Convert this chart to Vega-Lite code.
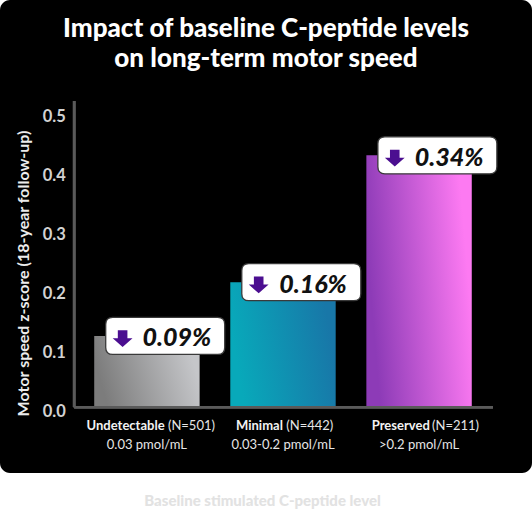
{
  "$schema": "https://vega.github.io/schema/vega-lite/v6.json",
  "width": 532,
  "height": 473,
  "autosize": {"type": "none"},
  "padding": {"left": 0, "top": 0, "right": 0, "bottom": 37},
  "background": "white",
  "config": {
    "view": {"fill": "black", "stroke": null, "cornerRadius": 10},
    "font": "Lato"
  },
  "title": {
    "text": ["Impact of baseline C-peptide levels", "on long-term motor speed"],
    "font": "Lato",
    "fontSize": 26,
    "fontWeight": 900,
    "color": "white",
    "lineHeight": 30,
    "anchor": "middle",
    "frame": "group",
    "offset": -72
  },
  "data": {
    "values": [
      {"group": "Undetectable", "n": "(N=501)", "range": "0.03 pmol/mL", "score": 0.121, "decline": "0.09%"},
      {"group": "Minimal", "n": "(N=442)", "range": "0.03-0.2 pmol/mL", "score": 0.212, "decline": "0.16%"},
      {"group": "Preserved", "n": "(N=211)", "range": ">0.2 pmol/mL", "score": 0.427, "decline": "0.34%"}
    ]
  },
  "encoding": {
    "x": {
      "field": "group",
      "type": "nominal",
      "sort": null,
      "scale": {"paddingInner": 0.2254, "paddingOuter": 0.5675, "align": 0.61},
      "axis": {
        "orient": "bottom",
        "offset": -66,
        "domain": false,
        "ticks": false,
        "labels": false,
        "title": "Baseline stimulated C-peptide level",
        "titleFont": "Lato",
        "titleFontSize": 15,
        "titleFontWeight": 900,
        "titleColor": "#e2e2e2",
        "titleX": 262,
        "titleY": 93,
        "titleBaseline": "middle"
      }
    },
    "y": {
      "field": "score",
      "type": "quantitative",
      "scale": {"domain": [-0.1114, 0.6903], "nice": false, "zero": false},
      "axis": {
        "orient": "left",
        "offset": -74.3,
        "values": [0, 0.1, 0.2, 0.3, 0.4, 0.5],
        "format": ".1f",
        "domain": false,
        "ticks": false,
        "grid": false,
        "labelPadding": 9,
        "labelOffset": 4.5,
        "labelFont": "Lato",
        "labelFontSize": 16.5,
        "labelFontWeight": 700,
        "labelColor": "#d2d2d2",
        "title": "Motor speed z-score (18-year follow-up)",
        "titleFont": "Lato",
        "titleFontSize": 16,
        "titleFontWeight": "bold",
        "titleColor": "#ececec",
        "titleX": -51,
        "titleY": 273,
        "titleBaseline": "middle",
        "titleAlign": "center",
        "titleAngle": -90
      }
    }
  },
  "layer": [
    {
      "mark": {"type": "bar"},
      "encoding": {
        "fill": {
          "condition": [
            {
              "test": "datum.group === 'Undetectable'",
              "value": {"gradient": "linear", "x1": 0, "y1": 0.6, "x2": 1, "y2": 0.4,
                "stops": [{"offset": 0.05, "color": "#7c7c7c"}, {"offset": 0.95, "color": "#c5c6c9"}]}
            },
            {
              "test": "datum.group === 'Minimal'",
              "value": {"gradient": "linear", "x1": 0, "y1": 0.6, "x2": 1, "y2": 0.4,
                "stops": [{"offset": 0.05, "color": "#08a9ba"}, {"offset": 0.95, "color": "#1877a8"}]}
            }
          ],
          "value": {"gradient": "linear", "x1": 0, "y1": 0.6, "x2": 1, "y2": 0.4,
            "stops": [{"offset": 0.05, "color": "#8d3bb7"}, {"offset": 0.95, "color": "#fd7af2"}]}
        }
      }
    },
    {
      "mark": {"type": "rule", "color": "#5a5a5a", "strokeWidth": 2.6},
      "encoding": {
        "x": {"datum": "Undetectable", "bandPosition": -0.19},
        "y": {"datum": 0},
        "y2": {"datum": 0.519}
      }
    },
    {
      "mark": {"type": "rule", "color": "#5a5a5a", "strokeWidth": 2.6},
      "encoding": {
        "x": {"datum": "Undetectable", "bandPosition": -0.19},
        "x2": {"datum": "Preserved", "bandPosition": 1.201},
        "y": {"datum": 0}
      }
    },
    {
      "mark": {
        "type": "point",
        "shape": "M-0.57,-0.3083 L1.18,-0.3083 Q1.2967,-0.3083 1.2967,-0.1917 L1.2967,0.1917 Q1.2967,0.3083 1.18,0.3083 L-0.57,0.3083 Q-0.6867,0.3083 -0.6867,0.1917 L-0.6867,-0.1917 Q-0.6867,-0.3083 -0.57,-0.3083 Z",
        "size": 14400,
        "filled": true,
        "fill": "white",
        "stroke": "#3a3a3a",
        "strokeWidth": 1.3,
        "opacity": 1
      }
    },
    {
      "mark": {
        "type": "point",
        "shape": "M-0.485,-0.095 L-0.325,-0.095 L-0.325,0.04 L-0.24,0.04 L-0.405,0.185 L-0.57,0.04 L-0.485,0.04 Z",
        "size": 14400,
        "filled": true,
        "color": "#4b0e90",
        "opacity": 1
      }
    },
    {
      "mark": {
        "type": "text",
        "font": "Lato",
        "fontSize": 25,
        "fontWeight": 900,
        "fontStyle": "italic",
        "color": "#111111",
        "align": "center",
        "baseline": "alphabetic",
        "dx": 30,
        "dy": 10.5
      },
      "encoding": {"text": {"field": "decline"}}
    },
    {
      "transform": [{"filter": "datum.group === 'Undetectable'"}],
      "layer": [
        {
          "mark": {"type": "text", "font": "Lato", "fontSize": 13, "fontWeight": "bold", "color": "#f2f2f2", "align": "right", "baseline": "middle", "dx": 17.7, "dy": 19},
          "encoding": {"text": {"field": "group"}, "y": {"datum": 0}}
        },
        {
          "mark": {"type": "text", "font": "Lato", "fontSize": 13, "color": "#e6e6e6", "align": "left", "baseline": "middle", "dx": 21, "dy": 19},
          "encoding": {"text": {"field": "n"}, "y": {"datum": 0}}
        }
      ]
    },
    {
      "transform": [{"filter": "datum.group === 'Minimal'"}],
      "layer": [
        {
          "mark": {"type": "text", "font": "Lato", "fontSize": 13, "fontWeight": "bold", "color": "#f2f2f2", "align": "right", "baseline": "middle", "dx": -0.1, "dy": 19},
          "encoding": {"text": {"field": "group"}, "y": {"datum": 0}}
        },
        {
          "mark": {"type": "text", "font": "Lato", "fontSize": 13, "color": "#e6e6e6", "align": "left", "baseline": "middle", "dx": 3.3, "dy": 19},
          "encoding": {"text": {"field": "n"}, "y": {"datum": 0}}
        }
      ]
    },
    {
      "transform": [{"filter": "datum.group === 'Preserved'"}],
      "layer": [
        {
          "mark": {"type": "text", "font": "Lato", "fontSize": 13, "fontWeight": "bold", "color": "#f2f2f2", "align": "right", "baseline": "middle", "dx": 10.7, "dy": 19},
          "encoding": {"text": {"field": "group"}, "y": {"datum": 0}}
        },
        {
          "mark": {"type": "text", "font": "Lato", "fontSize": 13, "color": "#e6e6e6", "align": "left", "baseline": "middle", "dx": 13, "dy": 19},
          "encoding": {"text": {"field": "n"}, "y": {"datum": 0}}
        }
      ]
    },
    {
      "mark": {"type": "text", "font": "Lato", "fontSize": 13, "color": "#e6e6e6", "align": "center", "baseline": "middle", "dy": 38},
      "encoding": {"text": {"field": "range"}, "y": {"datum": 0}}
    }
  ]
}
